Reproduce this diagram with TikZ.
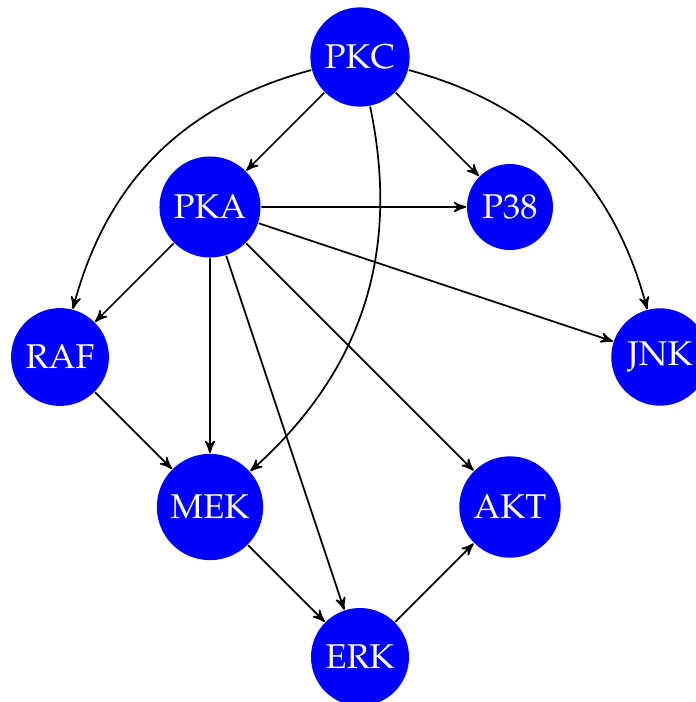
\documentclass[tikz,border=0pt]{standalone}
\usepackage[T1]{fontenc}
\usepackage{mathpazo}
\usepackage{tikz}
\usetikzlibrary{arrows}

\begin{document}
\begin{tikzpicture}[scale=1.84, >=stealth', semithick,
        protein/.style={circle, fill=blue, text=white, font=\large}]
        \useasboundingbox (-2.4,0.38) rectangle (2.24,-4.3);
        % Proteins
        \node[protein] (PKC) at (0,0) {PKC};
        \node[protein] (PKA) at (-1,-1) {PKA};
        \node[protein] (P38) at (1,-1) {P38};
        \node[protein] (RAF) at (-2,-2) {RAF};
        \node[protein] (JNK) at (2,-2) {JNK};
        \node[protein] (MEK) at (-1,-3) {MEK};
        \node[protein] (AKT) at (1,-3) {AKT};
        \node[protein] (ERK) at (0,-4) {ERK};
        % From PKC
        \draw[->] (PKC) -- (PKA);
        \draw[->] (PKC) -- (P38);
        \draw[->] (PKC) to[bend right] (RAF);
        \draw[->] (PKC) to[bend left] (JNK);
        \draw[->] (PKC) to[bend left] (MEK);
        % From PKA
        \draw[->] (PKA) -- (P38);
        \draw[->] (PKA) -- (JNK);
        \draw[->] (PKA) -- (RAF);
        \draw[->] (PKA) -- (MEK);
        \draw[->] (PKA) -- (ERK);
        \draw[->] (PKA) -- (AKT);
        % Cascade
        \draw[->] (RAF) -- (MEK);
        \draw[->] (MEK) -- (ERK);
        \draw[->] (ERK) -- (AKT);
\end{tikzpicture}
\end{document}
